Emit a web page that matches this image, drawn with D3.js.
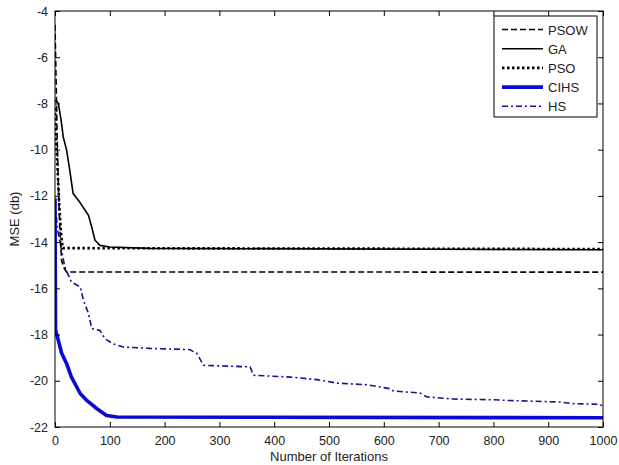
<!DOCTYPE html>
<html>
<head>
<meta charset="utf-8">
<title>MSE vs iterations</title>
<script src="https://d3js.org/d3.v7.min.js"></script>
<style>
  body { margin: 0; background: #fff; }
  svg text { font-family: Arial, "Liberation Sans", sans-serif; fill: #222; }
</style>
</head>
<body>
<svg id="chart" width="619" height="465"></svg>
<script>
// values: [iteration, MSE (db)]
var psow = [[0,-4.6],[2,-7],[4,-9.5],[6,-11.5],[9,-13.5],[12,-14.8],[16,-15.1],[21,-15.29],[1000,-15.3]];
var ga = [[0,-7.9],[3,-7.9],[6,-8.0],[11,-8.7],[15,-9.45],[21,-10.0],[27,-10.9],[33,-11.9],[46,-12.3],
          [61,-12.84],[67,-13.35],[73,-13.92],[82,-14.14],[100,-14.21],[173,-14.27],[1000,-14.33]];
var pso = [[0,-8.2],[2,-9.5],[5,-11],[8,-12.5],[11,-13.6],[14,-14.26],[1000,-14.3]];
var cihs = [[0,-12.1],[1,-17.8],[6,-18.25],[12,-18.8],[21,-19.25],[30,-19.84],[46,-20.55],[58,-20.85],
            [76,-21.2],[94,-21.5],[113,-21.57],[1000,-21.6]];
var hs = [[0,-12.3],[5,-13.5],[12,-14.36],[18,-15.08],[30,-15.73],[46,-15.94],[52,-16.52],[61,-17.08],
          [67,-17.74],[82,-17.82],[91,-18.18],[106,-18.4],[125,-18.54],[173,-18.6],[246,-18.65],[259,-18.82],
          [271,-19.33],[356,-19.4],[362,-19.76],[429,-19.84],[478,-19.95],[514,-20.1],[569,-20.17],[593,-20.27],
          [611,-20.34],[617,-20.44],[666,-20.53],[679,-20.7],[727,-20.79],[800,-20.82],[824,-20.85],[922,-20.92],
          [946,-20.99],[995,-21.02],[1000,-21.15]];

var seriesNames = ["PSOW", "GA", "PSO", "CIHS", "HS"];
var xTicks = [0,100,200,300,400,500,600,700,800,900,1000];
var yTicks = [-4,-6,-8,-10,-12,-14,-16,-18,-20,-22];

var styles = {
  PSOW: {color: "#000", width: 1.6, dash: "6,3"},
  GA:   {color: "#000", width: 1.6, dash: null},
  PSO:  {color: "#000", width: 2.6, dash: "2.5,2.5"},
  CIHS: {color: "#0a0ad0", width: 3.6, dash: null},
  HS:   {color: "#14148f", width: 1.6, dash: "6,3,2,3"}
};
var dataByName = {PSOW: psow, GA: ga, PSO: pso, CIHS: cihs, HS: hs};

var pLeft = 55, pRight = 603, pTop = 11, pBottom = 427;
var svg = d3.select("#chart");

var x = d3.scaleLinear().domain([0,1000]).range([pLeft,pRight]);
var y = d3.scaleLinear().domain([-22,-4]).range([pBottom,pTop]);

var line = d3.line().x(function(d){ return x(d[0]); }).y(function(d){ return y(d[1]); });

svg.append("clipPath").attr("id", "clip").append("rect")
  .attr("x", pLeft).attr("y", pTop).attr("width", pRight-pLeft).attr("height", pBottom-pTop);

var plot = svg.append("g").attr("clip-path", "url(#clip)");
// thick blue first so the thin ones sit on top
["CIHS","HS","PSOW","PSO","GA"].forEach(function(name){
  var s = styles[name];
  plot.append("path").datum(dataByName[name])
    .attr("d", line)
    .attr("fill", "none")
    .attr("stroke", s.color)
    .attr("stroke-width", s.width)
    .attr("stroke-dasharray", s.dash)
    .attr("stroke-linejoin", "round");
});

// axes, ticks inward like matlab
var fmt = function(d){ return String(d); };
function styleAxis(g){
  g.select(".domain").remove();
  g.selectAll("line").attr("stroke", "#000");
  g.selectAll("text").attr("font-size", "12.5px").attr("fill", "#222");
}
svg.append("g").attr("transform", "translate(0,"+pBottom+")")
  .call(d3.axisBottom(x).tickValues(xTicks).tickSize(-5).tickPadding(9).tickFormat(fmt))
  .call(styleAxis);
svg.append("g").attr("transform", "translate(0,"+pTop+")")
  .call(d3.axisTop(x).tickValues(xTicks).tickSize(-5).tickFormat(""))
  .call(styleAxis);
svg.append("g").attr("transform", "translate("+pLeft+",0)")
  .call(d3.axisLeft(y).tickValues(yTicks).tickSize(-5).tickPadding(7).tickFormat(fmt))
  .call(styleAxis);
svg.append("g").attr("transform", "translate("+pRight+",0)")
  .call(d3.axisRight(y).tickValues(yTicks).tickSize(-5).tickFormat(""))
  .call(styleAxis);

svg.append("rect").attr("x", pLeft).attr("y", pTop).attr("width", pRight-pLeft).attr("height", pBottom-pTop)
  .attr("fill", "none").attr("stroke", "#000").attr("stroke-width", 1);

// axis labels
svg.append("text").attr("x", (pLeft+pRight)/2).attr("y", 461)
  .attr("text-anchor", "middle").attr("font-size", "13px").text("Number of Iterations");
svg.append("text").attr("transform", "translate(19,"+((pTop+pBottom)/2)+") rotate(-90)")
  .attr("text-anchor", "middle").attr("font-size", "13px").text("MSE (db)");

// legend
var lg = svg.append("g");
lg.append("rect").attr("x", 494).attr("y", 16).attr("width", 103).attr("height", 101)
  .attr("fill", "#fff").attr("stroke", "#000").attr("stroke-width", 1);
seriesNames.forEach(function(name, i){
  var s = styles[name];
  var ly = 29.5 + i*19.2;
  lg.append("line").attr("x1", 502).attr("x2", 543).attr("y1", ly).attr("y2", ly)
    .attr("stroke", s.color).attr("stroke-width", s.width).attr("stroke-dasharray", s.dash);
  lg.append("text").attr("x", 548).attr("y", ly + 5).attr("font-size", "13px").text(name);
});
</script>
</body>
</html>
